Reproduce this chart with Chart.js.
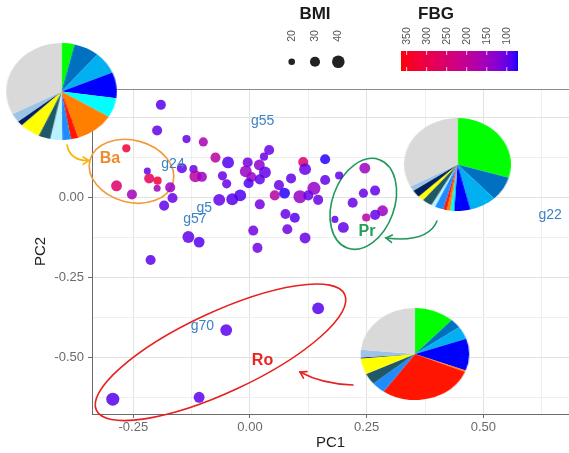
<!DOCTYPE html>
<html><head><meta charset="utf-8">
<script src="https://cdn.jsdelivr.net/npm/chart.js@4.4.0/dist/chart.umd.min.js"></script>
<style>
html,body{margin:0;padding:0;background:#fff;}
#wrap{position:relative;width:569px;height:453px;overflow:hidden;background:#fff;}
#c{position:absolute;left:0;top:0;}
.pie{position:absolute;transform-origin:50% 50%;}
</style></head><body>
<div id="wrap">
<canvas id="c" width="569" height="453"></canvas>
<canvas class="pie" id="cBa" width="97" height="97" style="left:13px;top:43px;transform:scaleX(1.14)"></canvas>
<canvas class="pie" id="cPr" width="93" height="93" style="left:411px;top:118px;transform:scaleX(1.15)"></canvas>
<canvas class="pie" id="cRo" width="92" height="92" style="left:369px;top:308px;transform:scaleX(1.18)"></canvas>
</div>
<script>
// ---- data ----
const pc1 = [-0.191,-0.199,-0.136,-0.100,-0.265,0.041,-0.074,-0.047,-0.005,0.020,
             0.030,0.114,0.161,-0.146,-0.121,-0.220,-0.009,0.032,0.118,0.191,
             0.246,-0.117,-0.103,-0.059,-0.216,-0.198,0.003,0.021,0.088,0.161,
             -0.286,-0.199,-0.171,-0.050,-0.003,0.062,0.137,-0.253,-0.166,-0.066,
             -0.038,-0.021,0.053,0.074,0.107,0.125,0.146,0.021,-0.184,0.220,
             0.243,0.268,0.284,0.268,0.249,0.182,0.200,0.076,0.096,0.080,
             0.007,0.118,-0.132,-0.109,0.016,-0.213,0.146,-0.051,-0.294,-0.109];
const pc2 = [0.289,0.209,0.182,0.173,0.153,0.148,0.124,0.109,0.109,0.101,
             0.127,0.110,0.119,0.091,0.088,0.082,0.081,0.078,0.088,0.068,
             0.091,0.066,0.064,0.067,0.059,0.052,0.063,0.056,0.059,0.054,
             0.036,0.028,0.031,0.042,0.044,0.038,0.028,0.009,-0.002,-0.008,
             -0.006,0.006,0.006,0.013,0.002,0.006,-0.008,-0.022,-0.026,-0.017,
             0.013,0.021,-0.042,-0.055,-0.063,-0.069,-0.094,-0.052,-0.064,-0.100,
             -0.104,-0.127,-0.124,-0.140,-0.158,-0.196,-0.347,-0.415,-0.631,-0.625];
const fbg = [92,100,98,165,320,102,190,92,108,135,
             102,255,76,98,102,98,140,98,102,98,
             150,185,150,102,275,320,150,98,98,98,
             260,150,140,102,88,102,140,155,102,98,
             92,88,185,76,140,102,102,108,98,102,
             102,98,145,98,190,98,98,102,92,108,
             108,102,98,92,108,95,92,95,92,95];
const bmi = [30,30,24,27,24,30,30,37,30,33,
             24,30,30,30,24,21,37,37,37,24,
             33,37,30,27,30,24,30,30,30,30,
             33,21,30,27,30,30,42,30,30,37,
             37,37,30,33,42,30,30,30,30,30,
             27,30,33,30,24,21,33,30,30,30,
             30,33,37,33,30,30,37,37,42,33];
const bmiBreaks = [20,30,40];
const fbgBreaks = [350,300,250,200,150,100];
const fbgLimits = [72,364];
const xMajor = [-0.25,0,0.25,0.5];
const xMinor = [-0.125,0.125,0.375,0.625];
const yMajor = [-0.5,-0.25,0,0.25];
const yMinor = [-0.625,-0.375,-0.125,0.125];
const pointLabels = ['g55','g24','g5','g57','g70','g22'];
const labelX = [0.027,-0.165,-0.098,-0.118,-0.102,0.643];
const labelY = [0.238,0.104,-0.033,-0.069,-0.402,-0.055];
const groupNames = ['Ba','Pr','Ro'];
const pieCategories = ['Taxon 1','Taxon 2','Taxon 3','Taxon 4','Taxon 5','Taxon 6','Taxon 7',
                       'Taxon 8','Taxon 9','Taxon 10','Taxon 11','Taxon 12','Taxon 13','Others'];
const pieBa = [13.7,26.7,26.5,31.1,23.3,41.0,7.9,9.0,12.7,12.6,21.6,5.7,10.7,117.5];
const piePr = [106.7,30.1,29.2,17.7,4.3,3.8,3.7,9.4,4.3,11.0,6.4,9.2,6.1,118.1];
const pieRo = [42.5,11.9,16.1,40.5,0,2.0,102.5,14.6,0,14.2,20.2,1.0,9.9,84.6];

// ---- styles ----
const pieColors = ['#00ff00','#0070c0','#00b0f0','#0000ff','#00ffff','#ff7f00','#ff1500',
                   '#1e8cff','#b8f2ff','#215868','#ffff00','#002060','#9dc3e6','#d9d9d9'];
const FONT = '"Liberation Sans", Arial, Helvetica, sans-serif';
const XMIN = (92-250)/466.7, XMAX = (569-250)/466.7;
const YMIN = (197.3-414)/320, YMAX = (197.3-89)/320;

function srgbToLab(r,g,b){
  const lin=c=>{c/=255;return c<=0.04045?c/12.92:Math.pow((c+0.055)/1.055,2.4);};
  const R=lin(r),G=lin(g),B=lin(b);
  const X=(R*0.4124564+G*0.3575761+B*0.1804375)/0.95047;
  const Y=(R*0.2126729+G*0.7151522+B*0.0721750);
  const Z=(R*0.0193339+G*0.1191920+B*0.9503041)/1.08883;
  const f=t=>t>0.008856?Math.cbrt(t):(7.787*t+16/116);
  const fx=f(X),fy=f(Y),fz=f(Z);
  return [116*fy-16,500*(fx-fy),200*(fy-fz)];
}
function labToRgb(L,a,b){
  const fy=(L+16)/116,fx=fy+a/500,fz=fy-b/200;
  const inv=t=>{const t3=t*t*t;return t3>0.008856?t3:(t-16/116)/7.787;};
  const X=inv(fx)*0.95047,Y=inv(fy),Z=inv(fz)*1.08883;
  const R=X*3.2404542-Y*1.5371385-Z*0.4985314;
  const G=-X*0.9692660+Y*1.8760108+Z*0.0415560;
  const B=X*0.0556434-Y*0.2040259+Z*1.0572252;
  const gam=c=>{c=c<=0.0031308?12.92*c:1.055*Math.pow(Math.max(c,0),1/2.4)-0.055;return Math.round(Math.max(0,Math.min(1,c))*255);};
  return [gam(R),gam(G),gam(B)];
}
const LAB_LO = srgbToLab(0,0,255), LAB_HI = srgbToLab(255,0,0);
function fbgColor(v,alpha){
  let t=(v-fbgLimits[0])/(fbgLimits[1]-fbgLimits[0]); t=Math.max(0,Math.min(1,t));
  const L=LAB_LO[0]+(LAB_HI[0]-LAB_LO[0])*t, A=LAB_LO[1]+(LAB_HI[1]-LAB_LO[1])*t, B=LAB_LO[2]+(LAB_HI[2]-LAB_LO[2])*t;
  const c=labToRgb(L,A,B);
  return 'rgba('+c[0]+','+c[1]+','+c[2]+','+alpha+')';
}
function bmiRadius(b){ return Math.sqrt(10.9+1.44*(b-20)); }
const isMajor = v => Math.abs(v*4-Math.round(v*4))<1e-6;

// annotation geometry (pixels)
const ellipses = [
  {cx:131.5,cy:171.3,rx:43,ry:31,rot:15,color:'#f39a38'},
  {cx:363.3,cy:203.8,rx:31,ry:47,rot:20,color:'#1f9a5c'},
  {cx:220.5,cy:352.3,rx:137,ry:40,rot:-25,color:'#e8201e'}
];
const groupText = [
  {x:110,y:159,color:'#f08a2a'},
  {x:367,y:232,color:'#22a05a'},
  {x:262.5,y:361,color:'#ee2020'}
];
const arrows = [
  {p0:[67,145],c:[70,161],p1:[89,160.5],color:'#f7b500'},
  {p0:[437,221],c:[428,243],p1:[386,238],color:'#1f9a5c'},
  {p0:[353,385],c:[322,384],p1:[300,372],color:'#e8201e'}
];

function drawArrow(ctx,a){
  ctx.save();
  ctx.strokeStyle=a.color; ctx.lineWidth=1.6; ctx.lineCap='round';
  ctx.beginPath(); ctx.moveTo(a.p0[0],a.p0[1]); ctx.quadraticCurveTo(a.c[0],a.c[1],a.p1[0],a.p1[1]); ctx.stroke();
  const ang=Math.atan2(a.p1[1]-a.c[1],a.p1[0]-a.c[0]);
  const L=7, w=0.55;
  ctx.beginPath();
  ctx.moveTo(a.p1[0]-L*Math.cos(ang-w),a.p1[1]-L*Math.sin(ang-w));
  ctx.lineTo(a.p1[0],a.p1[1]);
  ctx.lineTo(a.p1[0]-L*Math.cos(ang+w),a.p1[1]-L*Math.sin(ang+w));
  ctx.stroke();
  ctx.restore();
}

const annot = {
  id:'annot',
  beforeDatasetsDraw(chart){
    const ctx=chart.ctx, ca=chart.chartArea;
    ctx.save();
    ctx.strokeStyle='#8c8c8c'; ctx.lineWidth=1;
    ctx.beginPath(); ctx.moveTo(ca.left,ca.top+0.5); ctx.lineTo(chart.width,ca.top+0.5); ctx.stroke();
    ellipses.forEach(e=>{
      ctx.strokeStyle=e.color; ctx.lineWidth=1.6;
      ctx.beginPath(); ctx.ellipse(e.cx,e.cy,e.rx,e.ry,e.rot*Math.PI/180,0,2*Math.PI); ctx.stroke();
    });
    ctx.restore();
  },
  afterDatasetsDraw(chart){
    const ctx=chart.ctx, xs=chart.scales.x, ys=chart.scales.y;
    ctx.save();
    ctx.font='14px '+FONT; ctx.fillStyle='#3d82c4'; ctx.textAlign='center'; ctx.textBaseline='middle';
    pointLabels.forEach((t,i)=>ctx.fillText(t,xs.getPixelForValue(labelX[i]),ys.getPixelForValue(labelY[i])));
    ctx.font='bold 16px '+FONT;
    groupNames.forEach((g,i)=>{ctx.fillStyle=groupText[i].color; ctx.fillText(g,groupText[i].x,groupText[i].y);});
    arrows.forEach(a=>drawArrow(ctx,a));
    ctx.restore();
  },
  afterDraw(chart){
    const ctx=chart.ctx;
    ctx.save();
    ctx.fillStyle='#1a1a1a'; ctx.font='bold 17px '+FONT; ctx.textAlign='center'; ctx.textBaseline='middle';
    ctx.fillText('BMI',315,14);
    ctx.fillText('FBG',436,14);
    const bx=[291.7,315,338.3];
    bmiBreaks.forEach((b,i)=>{
      ctx.save(); ctx.translate(bx[i],36); ctx.rotate(-Math.PI/2);
      ctx.font='10.5px '+FONT; ctx.fillStyle='#555'; ctx.fillText(String(b),0,0); ctx.restore();
      ctx.beginPath(); ctx.arc(bx[i],61.7,bmiRadius(b),0,2*Math.PI); ctx.fillStyle='#222'; ctx.fill();
    });
    const x0=401,x1=518,y0=51,y1=71;
    for(let x=x0;x<x1;x++){
      const v=fbgLimits[1]-(x+0.5-x0)/(x1-x0)*(fbgLimits[1]-fbgLimits[0]);
      ctx.fillStyle=fbgColor(v,1); ctx.fillRect(x,y0,1,y1-y0);
    }
    fbgBreaks.forEach(v=>{
      const x=x0+(fbgLimits[1]-v)/(fbgLimits[1]-fbgLimits[0])*(x1-x0);
      ctx.strokeStyle='rgba(255,255,255,0.8)'; ctx.lineWidth=1;
      ctx.beginPath(); ctx.moveTo(x,y0); ctx.lineTo(x,y0+4); ctx.moveTo(x,y1-4); ctx.lineTo(x,y1); ctx.stroke();
      ctx.save(); ctx.translate(x,36); ctx.rotate(-Math.PI/2);
      ctx.font='10.5px '+FONT; ctx.fillStyle='#555'; ctx.textAlign='center'; ctx.textBaseline='middle';
      ctx.fillText(String(v),0,0); ctx.restore();
    });
    ctx.restore();
  }
};

Chart.defaults.font.family = FONT;

new Chart(document.getElementById('c'),{
  type:'scatter',
  data:{datasets:[{
    data: pc1.map((x,i)=>({x:x,y:pc2[i]})),
    pointBackgroundColor: fbg.map(v=>fbgColor(v,0.85)),
    pointBorderWidth:0,
    pointRadius: bmi.map(bmiRadius),
    pointHoverRadius: bmi.map(bmiRadius)
  }]},
  options:{
    responsive:false, animation:false, events:[],
    layout:{autoPadding:false,padding:{top:89,left:0,right:0,bottom:0}},
    plugins:{legend:{display:false},tooltip:{enabled:false}},
    scales:{
      x:{type:'linear',min:XMIN,max:XMAX,
        afterBuildTicks:s=>{s.ticks=xMajor.concat(xMinor).sort((a,b)=>a-b).map(v=>({value:v}));},
        afterFit:s=>{s.height=39;s.paddingLeft=0;s.paddingRight=0;},
        ticks:{autoSkip:false,maxRotation:0,padding:2,color:'#6b6b6b',font:{size:13},
          callback:v=>isMajor(v)?v.toFixed(2):''},
        grid:{color:c=>isMajor(c.tick.value)?'#e2e2e2':'#efefef',lineWidth:1,tickLength:4,
          tickColor:c=>isMajor(c.tick.value)?'#6b6b6b':'rgba(0,0,0,0)'},
        border:{display:true,color:'#6b6b6b',width:1},
        title:{display:true,text:'PC1',color:'#222',font:{size:15},padding:{top:0,bottom:1}}
      },
      y:{type:'linear',min:YMIN,max:YMAX,
        afterBuildTicks:s=>{s.ticks=yMajor.concat(yMinor).sort((a,b)=>a-b).map(v=>({value:v}));},
        afterFit:s=>{s.width=92;s.paddingTop=0;s.paddingBottom=0;},
        ticks:{autoSkip:false,padding:4,color:'#6b6b6b',font:{size:13},
          callback:v=>isMajor(v)?v.toFixed(2):''},
        grid:{color:c=>isMajor(c.tick.value)?'#e2e2e2':'#efefef',lineWidth:1,tickLength:4,
          tickColor:c=>isMajor(c.tick.value)?'#6b6b6b':'rgba(0,0,0,0)'},
        border:{display:true,color:'#6b6b6b',width:1},
        title:{display:true,text:'PC2',color:'#222',font:{size:15},padding:{top:32,bottom:0}}
      }
    }
  },
  plugins:[annot]
});

function makePie(id,values){
  new Chart(document.getElementById(id),{
    type:'pie',
    data:{labels:pieCategories,datasets:[{data:values,backgroundColor:pieColors,borderWidth:0,hoverOffset:0}]},
    options:{responsive:false,animation:false,events:[],layout:{padding:0},
      plugins:{legend:{display:false},tooltip:{enabled:false}}}
  });
}
makePie('cBa',pieBa);
makePie('cPr',piePr);
makePie('cRo',pieRo);
</script>
</body></html>
